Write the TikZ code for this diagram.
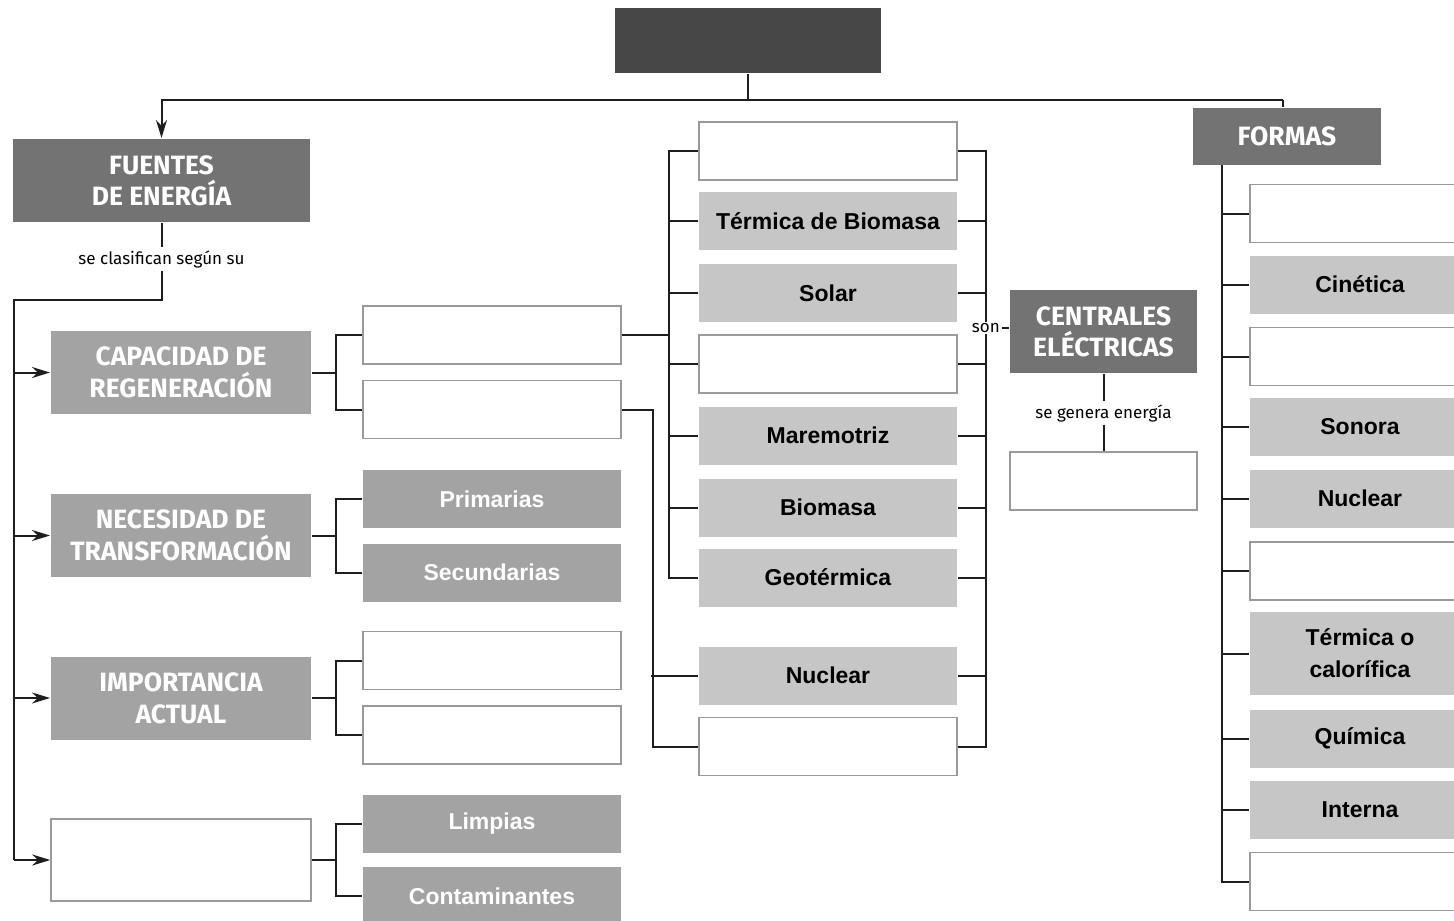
\documentclass[tikz,border=0pt]{standalone}
\usepackage{fontspec}
\setmainfont{Fira Sans}
\newfontfamily\itemfont{Liberation Sans}
\usepackage{tikz}
\usetikzlibrary{arrows.meta}
\definecolor{top}{HTML}{474747}
\definecolor{dark}{HTML}{737373}
\definecolor{mid}{HTML}{A3A3A3}
\definecolor{light}{HTML}{C6C6C6}
\definecolor{edge}{HTML}{9A9A9A}
\definecolor{wire}{HTML}{1E1E1E}
\tikzstyle{es} = [-{Stealth[length=18pt,width=11pt]}]
\tikzstyle{hdr} = [fill=dark, text=white, font=\bfseries\fontsize{26.5}{31}\selectfont, align=center, inner sep=0pt]
\tikzstyle{cat} = [fill=mid, text=white, font=\bfseries\fontsize{26.5}{32}\selectfont, align=center, inner sep=0pt, minimum width=260pt, minimum height=83pt]
\tikzstyle{blank} = [draw=edge, line width=1.6pt, fill=white, inner sep=0pt, minimum width=258pt, minimum height=58pt]
\tikzstyle{item} = [fill=light, text=black, font=\itemfont\bfseries\fontsize{23}{32}\selectfont, align=center, inner sep=0pt, minimum width=258pt, minimum height=58pt]
\tikzstyle{itemw} = [item, fill=mid, text=white]
\tikzstyle{lab} = [fill=white, font=\fontsize{17}{19}\selectfont, inner sep=2pt]

\begin{document}
\begin{tikzpicture}[x=1pt, y=-1pt, line width=2pt, draw=wire]
			\useasboundingbox (0,0) rectangle (1454,921);
			\clip (0,0) rectangle (1454,921);
			% top and the two main branches
			\node[fill=top, minimum width=266pt, minimum height=65pt] (tema) at (748,40.5) {};
			\node[hdr, minimum width=297pt, minimum height=83pt] (fuentes) at (161.5,180.5) {FUENTES\\DE ENERGÍA};
			\node[hdr, minimum width=188pt, minimum height=57pt] (formas) at (1287,136.5) {FORMAS};
			\coordinate (hl) at (161.5,100);
			\coordinate (hr) at (1283,100);
			\draw (tema.south) -- (tema.south |- hl);
			\draw[es] (hr) -- (hl) -- (fuentes.north);
			\draw (hr) -- (hr |- formas.north);
			% classification
			\node[lab] (clasif) at (161.5,259) {se clasifican según su};
			\node[cat] (capac) at (181,372.5) {CAPACIDAD DE\\REGENERACIÓN};
			\node[cat] (neces) at (181,535.5) {NECESIDAD DE\\TRANSFORMACIÓN};
			\node[cat] (import) at (181,698) {IMPORTANCIA\\ACTUAL};
			\node[blank, minimum width=260pt, minimum height=82pt] (vacioA) at (181,860) {};
			\coordinate (busL) at (14,300);
			\draw (fuentes.south) -- (clasif.north);
			\draw (clasif.south) |- (busL) -- (busL |- vacioA.west);
			\foreach \n in {capac,neces,import,vacioA}
				\draw[es] (busL |- \n.west) -- (\n.west);
			% second level
			\node[blank] (cap1) at (492,335) {};
			\node[blank] (cap2) at (492,409.5) {};
			\node[itemw] (prim) at (492,499) {Primarias};
			\node[itemw] (secu) at (492,572.5) {Secundarias};
			\node[blank] (imp1) at (492,660.5) {};
			\node[blank] (imp2) at (492,735) {};
			\node[itemw] (limp) at (492,823.5) {Limpias};
			\node[itemw] (cont) at (492,896) {Contaminantes};
			\draw (capac.east) -- ++(24,0) |- (cap1.west);
			\draw (capac.east) -- ++(24,0) |- (cap2.west);
			\draw (neces.east) -- ++(24,0) |- (prim.west);
			\draw (neces.east) -- ++(24,0) |- (secu.west);
			\draw (import.east) -- ++(24,0) |- (imp1.west);
			\draw (import.east) -- ++(24,0) |- (imp2.west);
			\draw (vacioA.east) -- ++(24,0) |- (limp.west);
			\draw (vacioA.east) -- ++(24,0) |- (cont.west);
			% sources
			\node[blank] (m1) at (828,151) {};
			\node[item] (termb) at (828,221) {Térmica de Biomasa};
			\node[item] (solar) at (828,293) {Solar};
			\node[blank] (m4) at (828,364) {};
			\node[item] (mare) at (828,435.5) {Maremotriz};
			\node[item] (bioma) at (828,507.5) {Biomasa};
			\node[item] (geot) at (828,577.5) {Geotérmica};
			\node[item] (nucm) at (828,675.5) {Nuclear};
			\node[blank] (m9) at (828,746.5) {};
			\draw (m1.west) -- ++(-29,0) coordinate (mb) |- (geot.west);
			\foreach \n in {termb,solar,m4,mare,bioma}
				\draw (\n.west) -- (\n.west -| mb);
			\draw (cap1.east) -- (cap1.east -| mb);
			\draw (cap2.east) -- ++(31,0) |- (m9.west);
			\draw (nucm.west) -- ++(-47,0);
			\draw (m1.east) -- ++(28,0) coordinate (rb) |- (m9.east);
			\foreach \n in {termb,solar,m4,mare,bioma,geot,nucm}
				\draw (\n.east) -- (\n.east -| rb);
			% power plants
			\node[hdr, minimum width=187pt, minimum height=83pt] (centr) at (1103.5,331.5) {CENTRALES\\ELÉCTRICAS};
			\node[lab, inner sep=1pt] (son) at (rb |- 0,328) {son};
			\draw (son.east) -- (son.east -| centr.west);
			\node[lab] (genera) at (1103.5,413) {se genera energía};
			\node[blank, minimum width=187pt] (cgen) at (1103.5,481) {};
			\draw (centr.south) -- (genera.north);
			\draw (genera.south) -- (cgen.north);
			% forms
			\tikzstyle{fw} = [minimum width=220pt]
			\node[blank, fw] (r1) at (1360,213.5) {};
			\node[item, fw] (cine) at (1360,284.5) {Cinética};
			\node[blank, fw] (r3) at (1360,356.5) {};
			\node[item, fw] (sono) at (1360,426.5) {Sonora};
			\node[item, fw] (nucf) at (1360,498.5) {Nuclear};
			\node[blank, fw] (r6) at (1360,571) {};
			\node[item, fw, minimum height=83pt] (termc) at (1360,653.5) {Térmica o\\calorífica};
			\node[item, fw] (quim) at (1360,738.5) {Química};
			\node[item, fw] (inte) at (1360,809.5) {Interna};
			\node[blank, fw] (r10) at (1360,881.5) {};
			\coordinate (fb) at (1222,165);
			\draw (fb) |- (r10.west);
			\foreach \n in {r1,cine,r3,sono,nucf,r6,termc,quim,inte}
				\draw (\n.west) -- (\n.west -| fb);
		\end{tikzpicture}
\end{document}
